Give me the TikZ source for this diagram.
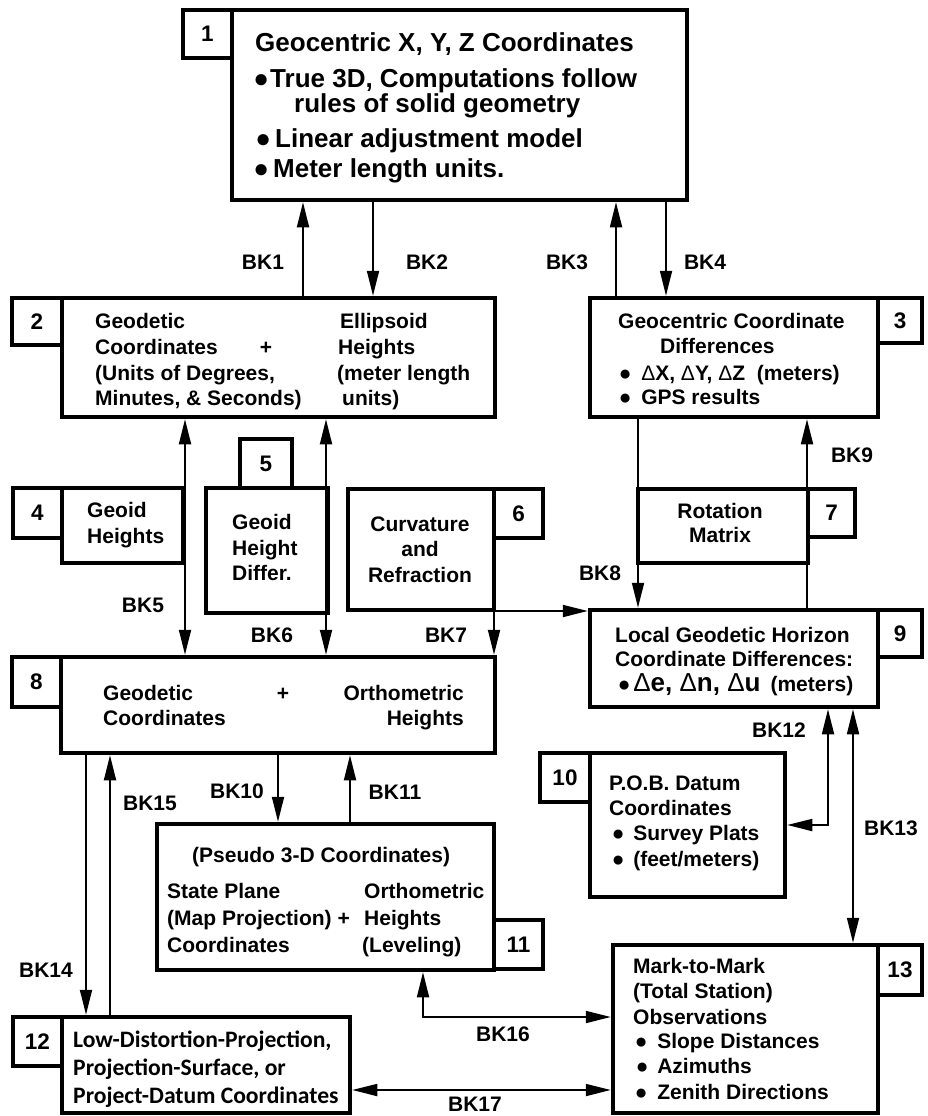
\documentclass[tikz,border=0pt]{standalone}
\usepackage{fontspec}
\setmainfont{Liberation Sans}
\newfontfamily\calfont{Carlito}
\usetikzlibrary{arrows.meta}
\newcommand\fa{\fontsize{21}{25}\selectfont\bfseries}
\newcommand\fb{\fontsize{26}{30}\selectfont\bfseries}
\newcommand\fc{\fontsize{23.6}{27}\selectfont\calfont\bfseries}
\newcommand\fn{\fontsize{22.5}{26}\selectfont\bfseries}
\newcommand\dl{{\mdseries\symbol{"0394}}}
\newcommand\bula{{\fontsize{21}{21}\selectfont\symbol{"25CF}}}
\newcommand\bulb{{\fontsize{26}{26}\selectfont\symbol{"25CF}}}
\begin{document}
\begin{tikzpicture}[x=1pt,y=-1pt,
  box/.style={draw, line width=4.5pt, inner sep=0pt},
  numbox/.style={box, font=\fn},
  tx/.style={anchor=base west, inner sep=0pt, font=\fa},
  txe/.style={anchor=base east, inner sep=0pt, font=\fa},
  txc/.style={anchor=base, inner sep=0pt, font=\fa},
  tb/.style={anchor=base west, inner sep=0pt, font=\fb},
  tc/.style={anchor=base west, inner sep=0pt, font=\fc},
  lbl/.style={inner sep=0pt, font=\fa},
  tip/.tip={Triangle[length=25pt,width=12pt]},
  arr/.style={line width=1.8pt, -tip},
  arrb/.style={line width=1.8pt, tip-tip}]
\useasboundingbox (0,0) rectangle (927,1116);

% ---------- boxes ----------
\node[box, minimum width=455pt, minimum height=190pt] (b1) at (459.5,105) {};
\node[numbox, minimum width=49pt, minimum height=48pt] (n1) at (207.5,34) {1};

\node[box, minimum width=433pt, minimum height=119pt] (b2) at (278.5,357.5) {};
\node[numbox, minimum width=50pt, minimum height=47pt] (n2) at (37,321.5) {2};

\node[box, minimum width=288pt, minimum height=119pt] (b3) at (734,357.5) {};
\node[numbox, minimum width=44pt, minimum height=45pt] (n3) at (900,320.5) {3};

\node[box, minimum width=121pt, minimum height=75pt] (b4) at (122.5,525.5) {};
\node[numbox, minimum width=49pt, minimum height=50pt] (n4) at (37.5,513) {4};

\node[box, minimum width=122pt, minimum height=125pt] (b5) at (267,550.5) {};
\node[numbox, minimum width=52pt, minimum height=49pt] (n5) at (266,463.5) {5};

\node[box, minimum width=146pt, minimum height=121pt] (b6) at (421,549.5) {};
\node[numbox, minimum width=49pt, minimum height=49pt] (n6) at (518.5,513.5) {6};

\node[box, minimum width=170pt, minimum height=74pt] (b7) at (723,526) {};
\node[numbox, minimum width=47pt, minimum height=48pt] (n7) at (831.5,513) {7};

\node[box, minimum width=434pt, minimum height=96pt] (b8) at (278,705) {};
\node[numbox, minimum width=49pt, minimum height=50pt] (n8) at (36.5,682) {8};

\node[box, minimum width=288pt, minimum height=97pt] (b9) at (734,658.5) {};
\node[numbox, minimum width=44pt, minimum height=47pt] (n9) at (900,633.5) {9};

\node[box, minimum width=195pt, minimum height=144pt] (b10) at (687.5,825) {};
\node[numbox, minimum width=50pt, minimum height=49pt] (n10) at (565,777.5) {10};

\node[box, minimum width=337pt, minimum height=146pt] (b11) at (325.5,897) {};
\node[numbox, minimum width=49pt, minimum height=49pt] (n11) at (518.5,944.5) {11};

\node[box, minimum width=288pt, minimum height=96pt] (b12) at (206,1065) {};
\node[numbox, minimum width=49pt, minimum height=49pt] (n12) at (37.5,1041.5) {12};

\node[box, minimum width=265pt, minimum height=168pt] (b13) at (745.5,1029) {};
\node[numbox, minimum width=44pt, minimum height=50pt] (n13) at (900,970) {13};

% ---------- texts ----------
\node[tb] (t1a) at (255,52) {Geocentric X, Y, Z Coordinates};
\node[tb] (t1c) at (253.2,87) {\bulb\hspace{1.1pt}True 3D, Computations follow};
\node[tb] (t1d) at (294,112) {rules of solid geometry};
\node[tb] (t1f) at (255.2,147) {\bulb\hspace{4.1pt}Linear adjustment model};
\node[tb] (t1h) at (253.2,177) {\bulb\hspace{4.1pt}Meter length units.};

\node[tx] (t2a) at (95,328) {Geodetic};
\node[tx] (t2b) at (95,354) {Coordinates};
\node[tx] (t2c) at (95,380) {(Units of Degrees,};
\node[tx] (t2d) at (95,405) {Minutes, \& Seconds)};
\node[txc] (t2e) at (266,354) {+};
\node[tx] (t2f) at (340,328) {Ellipsoid};
\node[tx] (t2g) at (338,354) {Heights};
\node[tx] (t2h) at (337,380) {(meter length};
\node[tx] (t2i) at (342,405) {units)};

\node[tx] (t3a) at (618,328) {Geocentric Coordinate};
\node[tx] (t3b) at (660,353) {Differences};
\node[tx] (t3d) at (618.7,380) {\bula\hspace{9.7pt}\dl X, \dl Y, \dl Z\ \ (meters)};
\node[tx] (t3f) at (618.7,404) {\bula\hspace{9.7pt}GPS results};

\node[tx] (t4a) at (87,517) {Geoid};
\node[tx] (t4b) at (87,543) {Heights};

\node[tx] (t5a) at (232,529) {Geoid};
\node[tx] (t5b) at (232,555) {Height};
\node[tx] (t5c) at (232,580) {Differ.};

\node[txc] (t6a) at (420,531) {Curvature};
\node[txc] (t6b) at (420,556) {and};
\node[txc] (t6c) at (420,582) {Refraction};

\node[txc] (t7a) at (720,518) {Rotation};
\node[txc] (t7b) at (720,542) {Matrix};

\node[tx] (t8a) at (103,700) {Geodetic};
\node[tx] (t8b) at (103,725) {Coordinates};
\node[txc] (t8c) at (283,700) {+};
\node[txe] (t8d) at (464,700) {Orthometric};
\node[txe] (t8e) at (464,725) {Heights};

\node[tx] (t9a) at (615,642) {Local Geodetic Horizon};
\node[tx] (t9b) at (615,666) {Coordinate Differences:};
\node[tx] (t9d) at (617.7,691) {\bula\hspace{2.7pt}{\fb\dl e, \dl n, \dl u}\hspace{10pt}(meters)};

\node[tx] (t10a) at (609,790) {P.O.B. Datum};
\node[tx] (t10b) at (609,815) {Coordinates};
\node[tx] (t10d) at (611.7,840) {\bula\hspace{8.7pt}Survey Plats};
\node[tx] (t10f) at (611.7,866) {\bula\hspace{8.7pt}(feet/meters)};

\node[tx] (t11a) at (192,862) {(Pseudo 3-D Coordinates)};
\node[tx] (t11b) at (167,898) {State Plane};
\node[tx] (t11c) at (167,925) {(Map Projection) +};
\node[tx] (t11d) at (167,952) {Coordinates};
\node[tx] (t11e) at (364,898) {Orthometric};
\node[tx] (t11f) at (364,925) {Heights};
\node[tx] (t11g) at (362,952) {(Leveling)};

\node[tc] (t12a) at (73,1047) {Low-Distortion-Projection,};
\node[tc] (t12b) at (73,1075) {Projection-Surface, or};
\node[tc] (t12c) at (73,1103) {Project-Datum Coordinates};

\node[tx] (t13a) at (633,973) {Mark-to-Mark};
\node[tx] (t13b) at (633,998) {(Total Station)};
\node[tx] (t13c) at (633,1024) {Observations};
\node[tx] (t13e) at (634.7,1048) {\bula\hspace{9.7pt}Slope Distances};
\node[tx] (t13g) at (635.7,1073) {\bula\hspace{8.7pt}Azimuths};
\node[tx] (t13i) at (634.7,1099) {\bula\hspace{9.7pt}Zenith Directions};

% ---------- connector positions ----------
\coordinate (k1) at (303,0);
\coordinate (k2) at (373,0);
\coordinate (k3) at (616,0);
\coordinate (k4) at (666,0);
\coordinate (k5) at (185,0);
\coordinate (k6) at (326,0);
\coordinate (k7) at (494,610);
\coordinate (k7b) at (494,611);
\coordinate (k8) at (638,0);
\coordinate (k9) at (807,0);
\coordinate (k10) at (278,0);
\coordinate (k11) at (350,0);
\coordinate (k12) at (828,0);
\coordinate (k13) at (853,0);
\coordinate (k14) at (86,0);
\coordinate (k15) at (110,0);
\coordinate (k16) at (423,1017);
\coordinate (k17) at (0,1090);

% ---------- connectors ----------
\draw[arr] (b2.north -| k1) -- (b1.south -| k1);
\draw[arr] (b1.south -| k2) -- (b2.north -| k2);
\draw[arr] (b3.north -| k3) -- (b1.south -| k3);
\draw[arr] (b1.south -| k4) -- (b3.north -| k4);
\draw[arrb] (b2.south -| k5) -- (b8.north -| k5);
\draw[arrb] (b2.south -| k6) -- (b8.north -| k6);
\draw[arr] (k7) -- (b8.north -| k7);
\draw[arr] (k7b) -- (b9.west |- k7b);
\draw[arr] (b3.south -| k8) -- (b9.north -| k8);
\draw[arr] (b9.north -| k9) -- (b3.south -| k9);
\draw[arr] (b8.south -| k10) -- (b11.north -| k10);
\draw[arr] (b11.north -| k11) -- (b8.south -| k11);
\draw[arrb] (b10.east) -| (b9.south -| k12);
\draw[arrb] (b9.south -| k13) -- (b13.north -| k13);
\draw[arr] (b8.south -| k14) -- (b12.north -| k14);
\draw[arr] (b12.north -| k15) -- (b8.south -| k15);
\draw[arrb] (b11.south -| k16) |- (b13.west |- k16);
\draw[arrb] (b12.east |- k17) -- (b13.west |- k17);

% ---------- labels ----------
\node[lbl] (l1) at (263,262) {BK1};
\node[lbl] (l2) at (427,262) {BK2};
\node[lbl] (l3) at (567,262) {BK3};
\node[lbl] (l4) at (705,262) {BK4};
\node[lbl] (l5) at (143,605) {BK5};
\node[lbl] (l6) at (272,635) {BK6};
\node[lbl] (l7) at (446,635) {BK7};
\node[lbl] (l8) at (600,573) {BK8};
\node[lbl] (l9) at (852,455) {BK9};
\node[lbl] (l10) at (237,791) {BK10};
\node[lbl] (l11) at (395,792) {BK11};
\node[lbl] (l12) at (779,730) {BK12};
\node[lbl] (l13) at (891,828) {BK13};
\node[lbl] (l14) at (46,970) {BK14};
\node[lbl] (l15) at (150,803) {BK15};
\node[lbl] (l16) at (503,1034) {BK16};
\node[lbl] (l17) at (475,1104) {BK17};
\end{tikzpicture}
\end{document}
